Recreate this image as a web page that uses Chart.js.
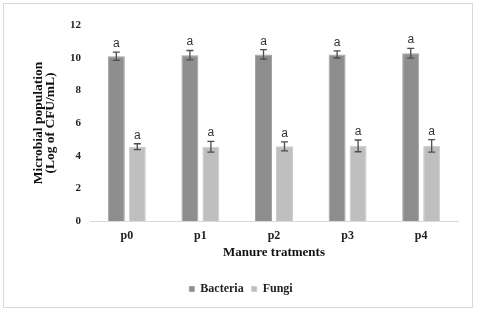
<!DOCTYPE html>
<html>
<head>
<meta charset="utf-8">
<script src="https://cdn.jsdelivr.net/npm/chart.js@4.4.1/dist/chart.umd.min.js"></script>
<style>
  html, body { margin: 0; padding: 0; background: #fff; }
  #wrap { position: relative; width: 480px; height: 321px; }
  #frame { position: absolute; left: 3px; top: 3px; width: 468px; height: 303px; border: 1px solid #d9d9d9; pointer-events: none; }
</style>
</head>
<body>
<div id="wrap">
  <canvas id="grafico" width="480" height="321"></canvas>
  <div id="frame"></div>
</div>
<script>
// valori
var trattamenti = ['p0', 'p1', 'p2', 'p3', 'p4'];
var bacteria = [10.09, 10.15, 10.2, 10.2, 10.27];
var fungi = [4.55, 4.55, 4.57, 4.6, 4.6];
var bacteriaErr = [0.25, 0.29, 0.29, 0.22, 0.3];
var fungiErr = [0.18, 0.33, 0.28, 0.36, 0.38];
var bacteriaLettere = ['a', 'a', 'a', 'a', 'a'];
var fungiLettere = ['a', 'a', 'a', 'a', 'a'];

var serif = '"Liberation Serif", "Times New Roman", serif';

// barre di errore + lettere sopra
var erroriPlugin = {
  id: 'errori',
  afterLayout: function(chart) {
    // legenda un po' spostata a destra come nell'originale
    chart.legend.left += 12;
    chart.legend.right += 12;
  },
  afterDatasetsDraw: function(chart) {
    var ctx = chart.ctx;
    var y = chart.scales.y;
    var errori = [bacteriaErr, fungiErr];
    var lettere = [bacteriaLettere, fungiLettere];
    ctx.save();
    chart.data.datasets.forEach(function(ds, i) {
      var meta = chart.getDatasetMeta(i);
      meta.data.forEach(function(bar, j) {
        var v = ds.data[j];
        var yt = y.getPixelForValue(v + errori[i][j]);
        var yb = y.getPixelForValue(v - errori[i][j]);
        ctx.strokeStyle = '#4d4d4d';
        ctx.lineWidth = 1.3;
        ctx.beginPath();
        ctx.moveTo(bar.x, yt); ctx.lineTo(bar.x, yb);
        ctx.moveTo(bar.x - 3.5, yt); ctx.lineTo(bar.x + 3.5, yt);
        ctx.moveTo(bar.x - 3.5, yb); ctx.lineTo(bar.x + 3.5, yb);
        ctx.stroke();
        ctx.fillStyle = '#333';
        ctx.font = '12px "Liberation Sans", Arial, sans-serif';
        ctx.textAlign = 'center';
        ctx.textBaseline = 'alphabetic';
        ctx.fillText(lettere[i][j], bar.x, yt - 5);
      });
    });
    ctx.restore();
  }
};

var ctx = document.getElementById('grafico');

var myChart = new Chart(ctx, {
  type: 'bar',
  data: {
    labels: trattamenti,
    datasets: [{
      label: 'Bacteria',
      data: bacteria,
      backgroundColor: '#8e8e8e',
      borderColor: '#a3a3a3',
      borderWidth: 1
    }, {
      label: 'Fungi',
      data: fungi,
      backgroundColor: '#bfbfbf',
      borderColor: '#cdcdcd',
      borderWidth: 1
    }]
  },
  options: {
    responsive: false,
    animation: false,
    categoryPercentage: 0.57,
    barPercentage: 0.81,
    layout: { padding: { left: 0, right: 22, top: 25, bottom: 16 } },
    plugins: {
      tooltip: { enabled: false },
      legend: {
        position: 'bottom',
        labels: {
          boxWidth: 5,
          boxHeight: 5,
          padding: 8,
          color: '#222',
          font: { family: serif, size: 12, weight: 'bold' }
        }
      }
    },
    scales: {
      x: {
        grid: { display: false, drawTicks: false },
        border: { display: true, color: '#d9d9d9', width: 1 },
        ticks: { color: '#222', padding: 8, font: { family: serif, size: 12, weight: 'bold' } },
        title: {
          display: true,
          text: 'Manure tratments',
          color: '#111',
          padding: { top: 4, bottom: 15 },
          font: { family: serif, size: 13, weight: 'bold' }
        },
        afterFit: function(scale) { scale.height = 54; }
      },
      y: {
        min: 0,
        max: 12,
        grid: { display: false, drawTicks: false },
        border: { display: false },
        ticks: { stepSize: 2, color: '#222', padding: 9, font: { family: serif, size: 11, weight: 'bold' } },
        title: {
          display: true,
          text: ['Microbial population', '(Log of CFU/mL)'],
          color: '#111',
          padding: { top: 33, bottom: 0 },
          font: { family: serif, size: 13.5, weight: 'bold', lineHeight: 0.85 }
        },
        afterFit: function(scale) { scale.width = 90; }
      }
    }
  },
  plugins: [erroriPlugin]
});
</script>
</body>
</html>
